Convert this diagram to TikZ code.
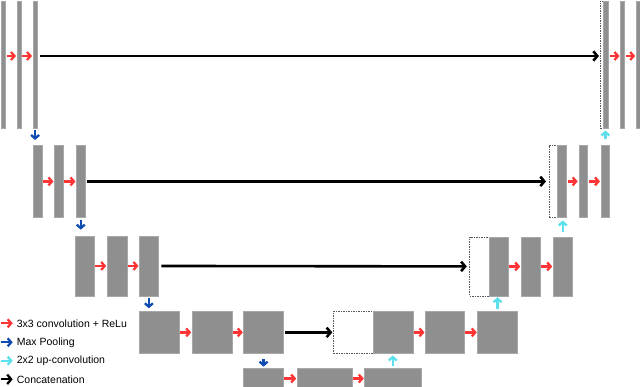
\documentclass[tikz,border=0pt]{standalone}
\usepackage{fontspec}
\setmainfont{Liberation Sans}
\usetikzlibrary{arrows.meta}

\definecolor{mapgray}{HTML}{8F8F8F}
\definecolor{mapedge}{HTML}{A8A8A8}
\definecolor{convred}{HTML}{FF3535}
\definecolor{poolblue}{HTML}{0E4BB3}
\definecolor{upcyan}{HTML}{5CE1EC}

\newcommand{\fmap}[6][fmap]{\node[#1, minimum width=#5pt, minimum height=#6pt] (#2) at (#3,#4) {};}

\begin{document}
\begin{tikzpicture}[x=1pt, y=-1pt,
    fmap/.style={draw=mapedge, fill=mapgray, line width=0.5pt, inner sep=0pt, anchor=north west},
    copied/.style={draw=black!65, dashed, dash pattern=on 1.5pt off 1pt, fill=white, line width=0.5pt, inner sep=0pt, anchor=north west},
    conv/.style={convred, line width=2.3pt, -{Straight Barb[length=3.5pt, width=8pt]}},
    pool/.style={poolblue, line width=2.3pt, -{Straight Barb[length=3.5pt, width=8pt]}},
    upconv/.style={upcyan, line width=2.3pt, -{Straight Barb[length=3.5pt, width=8pt]}},
    concat/.style={black, line width=2.6pt, -{Straight Barb[length=4pt, width=9.5pt]}},
    legend/.style={anchor=west, inner sep=0pt, font=\fontsize{10.5}{12}\selectfont}]
    \useasboundingbox (0,0) rectangle (640,387);
    \clip (0,0) rectangle (640,387);

    % contracting path
    \fmap{e1a}{1}{1}{3.5}{127}
    \fmap{e1b}{17}{1}{3.7}{127}
    \fmap{e1c}{33}{1}{3.7}{127}
    \fmap{e2a}{32.7}{145}{9}{72.3}
    \fmap{e2b}{54}{145}{9}{72.3}
    \fmap{e2c}{76}{145}{9}{72.3}
    \fmap{e3a}{75}{235.7}{19.3}{60}
    \fmap{e3b}{106.7}{235.7}{20}{60}
    \fmap{e3c}{139}{235.7}{19.3}{60}
    \fmap{e4a}{139}{311}{40}{42.3}
    \fmap{e4b}{191.7}{311}{40}{42.3}
    \fmap{e4c}{243.3}{311}{40}{42.3}
    \fmap{b5a}{243.3}{368.3}{40}{20}
    \fmap{b5b}{296.7}{368.3}{55.6}{20}
    \fmap{b5c}{364.3}{368.3}{56.4}{20}

    % expanding path
    \fmap[copied]{c4}{333.3}{311}{39.4}{42.3}
    \fmap{d4a}{372.7}{311}{40}{42.3}
    \fmap{d4b}{425}{311}{39.3}{42.3}
    \fmap{d4c}{477.3}{311}{40}{42.3}
    \fmap[copied]{c3}{469.3}{236.7}{19.7}{59}
    \fmap{d3a}{489}{236.7}{19.3}{59}
    \fmap{d3b}{520.7}{236.7}{19.3}{59}
    \fmap{d3c}{552.7}{236.7}{19.6}{59}
    \fmap[copied]{c2}{549}{145}{8.3}{72.3}
    \fmap{d2a}{557.3}{145}{8.7}{72.3}
    \fmap{d2b}{578.7}{145}{8.6}{72.3}
    \fmap{d2c}{601}{145}{8.3}{72.3}
    \fmap[copied]{c1}{600}{1}{3.3}{127}
    \fmap{d1a}{603.3}{1}{4.4}{127}
    \fmap{d1b}{620}{1}{4}{127}
    \fmap{d1c}{635.7}{1}{4.3}{127}

    \coordinate (top) at (0,56);

    % 3x3 convolutions
    \draw[conv, shorten <=1.5pt, shorten >=1pt] (e1a.east |- top) -- (e1b.west |- top);
    \draw[conv, shorten <=1pt, shorten >=1pt] (e1b.east |- top) -- (e1c.west |- top);
    \draw[conv, shorten <=0.5pt, shorten >=0.5pt] (e2a) -- (e2b);
    \draw[conv, shorten <=0.5pt, shorten >=0.5pt] (e2b) -- (e2c);
    \draw[conv, shorten <=0.5pt, shorten >=0.5pt] (e3a) -- (e3b);
    \draw[conv, shorten <=0.5pt, shorten >=0.5pt] (e3b) -- (e3c);
    \draw[conv, shorten <=0.5pt, shorten >=0.5pt] (e4a) -- (e4b);
    \draw[conv, shorten <=0.5pt, shorten >=0.5pt] (e4b) -- (e4c);
    \draw[conv, shorten <=0.5pt, shorten >=0.5pt] (b5a) -- (b5b);
    \draw[conv, shorten <=0.5pt, shorten >=0.5pt] (b5b) -- (b5c);
    \draw[conv, shorten <=0.5pt, shorten >=0.5pt] (d4a) -- (d4b);
    \draw[conv, shorten <=0.5pt, shorten >=0.5pt] (d4b) -- (d4c);
    \draw[conv, shorten <=0.5pt, shorten >=0.5pt] (d3a) -- (d3b);
    \draw[conv, shorten <=0.5pt, shorten >=0.5pt] (d3b) -- (d3c);
    \draw[conv, shorten <=1pt, shorten >=1pt] (d2a) -- (d2b);
    \draw[conv, shorten <=1pt, shorten >=1pt] (d2b) -- (d2c);
    \draw[conv, shorten <=1.5pt, shorten >=0.5pt] (d1a.east |- top) -- (d1b.west |- top);
    \draw[conv, shorten <=1.5pt, shorten >=0.5pt] (d1b.east |- top) -- (d1c.west |- top);

    % max pooling
    \draw[pool, shorten <=2pt, shorten >=5pt] (e1c.south) -- (e1c.south |- e2a.north);
    \draw[pool, shorten <=2pt, shorten >=6pt] (e2c.south) -- (e2c.south |- e3a.north);
    \draw[pool, shorten <=2pt, shorten >=2.7pt] (e3c.south) -- (e3c.south |- e4a.north);
    \draw[pool, shorten <=5pt, shorten >=1.6pt] (e4c.south) -- (e4c.south |- b5a.north);

    % up-convolutions
    \draw[upconv, shorten <=2pt, shorten >=1.7pt] (b5c.north) -- (b5c.north |- d4a.south);
    \draw[upconv, shorten <=2pt, shorten >=1pt] (d4c.north) -- (d4c.north |- d3a.south);
    \draw[upconv, shorten <=5pt, shorten >=2.7pt] (d3c.north) -- (d3c.north |- d2a.south);
    \draw[upconv, shorten <=6pt, shorten >=2pt] (d2c.north) -- (d2c.north |- d1a.south);

    % skip connections
    \draw[concat, shorten <=2.5pt, shorten >=1pt] (e1c.east |- top) -- (c1.west |- top);
    \draw[concat, shorten <=1pt, shorten >=3pt] (e2c) -- (c2);
    \draw[concat, shorten <=2.5pt, shorten >=2.5pt] (e3c) -- (c3);
    \draw[concat, shorten <=1pt, shorten >=1pt] (e4c) -- (c4);

    % legend
    \node[legend] (t1) at (16.7,323.3) {3x3 convolution + ReLu};
    \node[legend] (t2) at (16.7,342.3) {Max Pooling};
    \node[legend] (t3) at (16.7,360.7) {2x2 up-convolution};
    \node[legend] (t4) at (16.7,379.3) {Concatenation};
    \coordinate (k1) at (0.5,323.3);
    \coordinate (k2) at (0.5,342.3);
    \coordinate (k3) at (0.5,360.7);
    \coordinate (k4) at (0.5,379.3);
    \draw[conv, shorten >=4pt] (k1) -- (t1.west);
    \draw[pool, shorten >=4pt] (k2) -- (t2.west);
    \draw[upconv, shorten >=4pt] (k3) -- (t3.west);
    \draw[concat, line width=2.3pt, shorten >=4pt] (k4) -- (t4.west);
\end{tikzpicture}
\end{document}
